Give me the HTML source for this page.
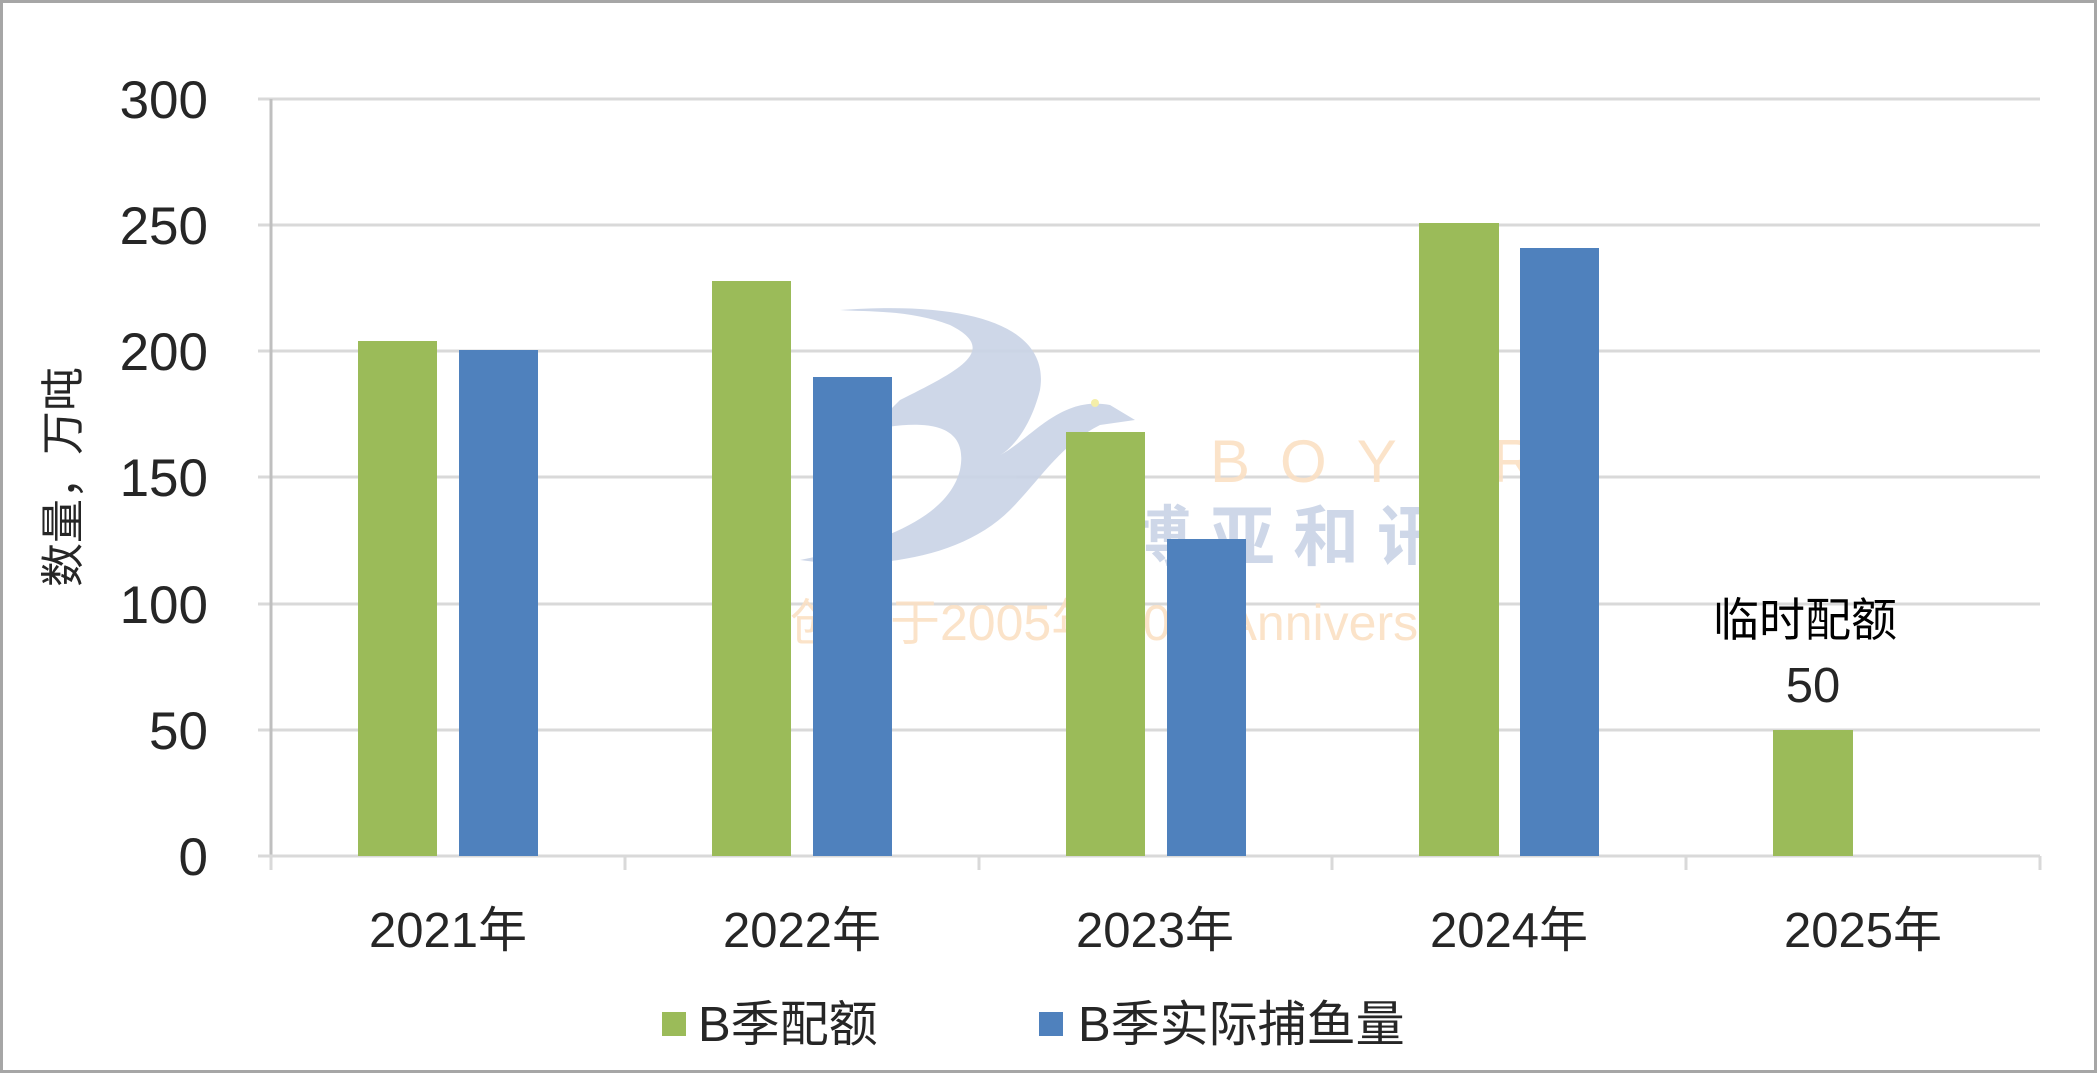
<!DOCTYPE html>
<html><head><meta charset="utf-8"><style>
html,body{margin:0;padding:0;background:#fff;}
svg{display:block;}
</style></head><body>
<svg width="2097" height="1073" viewBox="0 0 2097 1073" xmlns="http://www.w3.org/2000/svg" font-family="Liberation Sans, Noto Sans CJK SC, sans-serif">
<rect x="1.5" y="1.5" width="2094" height="1070" fill="#fff" stroke="#a6a6a6" stroke-width="3"/>
<!-- gridlines -->
<g stroke="#d9d9d9" stroke-width="3">
<line x1="258" y1="99" x2="2040" y2="99"/>
<line x1="258" y1="225" x2="2040" y2="225"/>
<line x1="258" y1="351" x2="2040" y2="351"/>
<line x1="258" y1="477" x2="2040" y2="477"/>
<line x1="258" y1="604" x2="2040" y2="604"/>
<line x1="258" y1="730" x2="2040" y2="730"/>
</g>
<!-- watermark -->
<g opacity="0.9">
<path d="M840 310 C980 300 1050 330 1040 390 C1030 430 1010 450 1000 455 C1030 440 1060 395 1110 405 L1135 420 L1100 425 C1060 445 1040 480 1010 510 C960 560 870 570 800 560 C900 540 950 510 960 470 C970 420 920 420 870 430 L900 400 C960 370 1000 350 950 325 C910 310 870 312 840 310 Z" fill="#c9d3e6"/>
<circle cx="1095" cy="403" r="4" fill="#f3eda0"/>
<text x="1210" y="482" font-size="60" fill="#fbe0c4" letter-spacing="30">BOYAR</text>
<text x="1125" y="560" font-size="66" fill="#c9d3e6" letter-spacing="18" font-weight="bold">博亚和讯</text>
<text x="790" y="640" font-size="50" fill="#fbe0c4">创立于2005年 20th Anniversary</text>
</g>
<!-- axes -->
<line x1="271" y1="99" x2="271" y2="870" stroke="#bfbfbf" stroke-width="3"/>
<line x1="258" y1="856" x2="2040" y2="856" stroke="#d9d9d9" stroke-width="3"/>
<g stroke="#d9d9d9" stroke-width="3">
<line x1="271" y1="856" x2="271" y2="870"/>
<line x1="625" y1="856" x2="625" y2="870"/>
<line x1="979" y1="856" x2="979" y2="870"/>
<line x1="1332" y1="856" x2="1332" y2="870"/>
<line x1="1686" y1="856" x2="1686" y2="870"/>
<line x1="2040" y1="856" x2="2040" y2="870"/>
</g>
<!-- bars -->
<g fill="#9bbb59">
<rect x="358" y="341" width="79" height="515"/>
<rect x="712" y="281" width="79" height="575"/>
<rect x="1066" y="432" width="79" height="424"/>
<rect x="1419" y="223" width="80" height="633"/>
<rect x="1773" y="730" width="80" height="126"/>
</g>
<g fill="#4f81bd">
<rect x="459" y="350" width="79" height="506"/>
<rect x="813" y="377" width="79" height="479"/>
<rect x="1167" y="539" width="79" height="317"/>
<rect x="1520" y="248" width="79" height="608"/>
</g>
<!-- y labels -->
<g font-size="53" fill="#262626" text-anchor="end">
<text x="208" y="118">300</text>
<text x="208" y="244">250</text>
<text x="208" y="370">200</text>
<text x="208" y="496">150</text>
<text x="208" y="623">100</text>
<text x="208" y="749">50</text>
<text x="208" y="875">0</text>
</g>
<text transform="translate(78,477) rotate(-90)" font-size="44" fill="#262626" text-anchor="middle">数量，万吨</text>
<!-- x labels -->
<g font-size="49" fill="#262626" text-anchor="middle">
<text x="448" y="947">2021年</text>
<text x="802" y="947">2022年</text>
<text x="1155" y="947">2023年</text>
<text x="1509" y="947">2024年</text>
<text x="1863" y="947">2025年</text>
</g>
<!-- annotation -->
<text x="1805" y="636" font-size="46" fill="#000" text-anchor="middle">临时配额</text>
<text x="1813" y="702" font-size="49" fill="#262626" text-anchor="middle">50</text>
<!-- legend -->
<rect x="662" y="1012" width="24" height="24" fill="#9bbb59"/>
<text x="698" y="1041" font-size="49" fill="#262626">B季配额</text>
<rect x="1039" y="1012" width="24" height="24" fill="#4f81bd"/>
<text x="1078" y="1041" font-size="49" fill="#262626">B季实际捕鱼量</text>
</svg>
</body></html>
